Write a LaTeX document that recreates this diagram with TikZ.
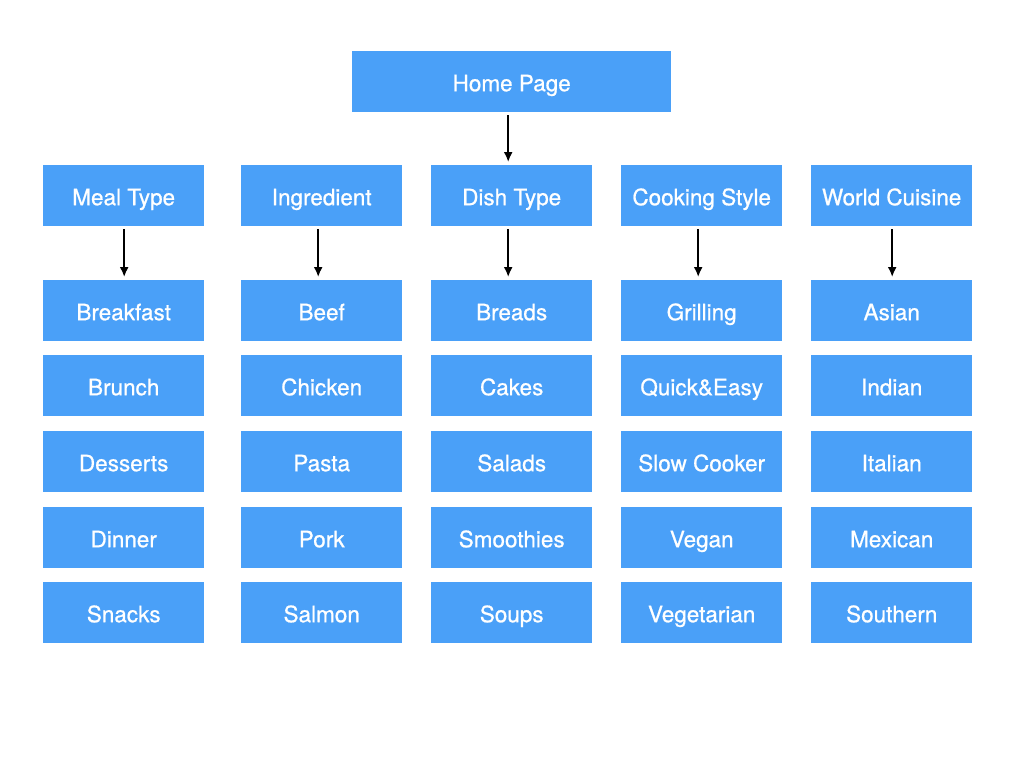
\documentclass[tikz,border=0pt]{standalone}
\usepackage{fontspec}
\setmainfont{TeX Gyre Heros}
\newfontfamily\boxfont{TeX Gyre Heros}[FakeBold=0.8]
\usetikzlibrary{arrows.meta}
\definecolor{boxblue}{RGB}{74,160,248}
\tikzset{
  box/.style={fill=boxblue, draw=none, minimum width=161pt, minimum height=61pt, inner sep=0pt, text=white, font=\boxfont\fontsize{22.5}{26}\selectfont, text height=19pt, text depth=0pt, anchor=north west},
  link/.style={-{Latex[length=10pt,width=9pt]}, line width=1.8pt, shorten <=3pt, shorten >=3pt}
}
\begin{document}
\begin{tikzpicture}[x=1pt,y=-1pt]
\useasboundingbox[fill=white] (0,0) rectangle (1024,768);
\node[box, minimum width=319pt] (home) at (352,51) {Home Page};
% column headers
\node[box] (c1) at (43,165) {Meal Type};
\node[box] (c2) at (241,165) {Ingredient};
\node[box] (c3) at (431,165) {Dish Type};
\node[box] (c4) at (621,165) {Cooking Style};
\node[box] (c5) at (811,165) {World Cuisine};
% items
\foreach \c/\x/\a/\b/\cc/\d/\e in {1/43/Breakfast/Brunch/Desserts/Dinner/Snacks,
  2/241/Beef/Chicken/Pasta/Pork/Salmon,
  3/431/Breads/Cakes/Salads/Smoothies/Soups,
  4/621/Grilling/Quick\&Easy/Slow Cooker/Vegan/Vegetarian,
  5/811/Asian/Indian/Italian/Mexican/Southern}{
  \node[box] (i\c-1) at (\x,280) {\a};
  \node[box] (i\c-2) at (\x,355) {\b};
  \node[box] (i\c-3) at (\x,431) {\cc};
  \node[box] (i\c-4) at (\x,507) {\d};
  \node[box] (i\c-5) at (\x,582) {\e};
}
\draw[link] ([xshift=-3.5pt]home.south) -- ([xshift=-3.5pt]c3.north);
\draw[link] ([xshift=0.5pt]c1.south) -- ([xshift=0.5pt]i1-1.north);
\draw[link] ([xshift=-3.5pt]c2.south) -- ([xshift=-3.5pt]i2-1.north);
\draw[link] ([xshift=-3.5pt]c3.south) -- ([xshift=-3.5pt]i3-1.north);
\draw[link] ([xshift=-3.5pt]c4.south) -- ([xshift=-3.5pt]i4-1.north);
\draw[link] ([xshift=0.5pt]c5.south) -- ([xshift=0.5pt]i5-1.north);
\end{tikzpicture}
\end{document}
